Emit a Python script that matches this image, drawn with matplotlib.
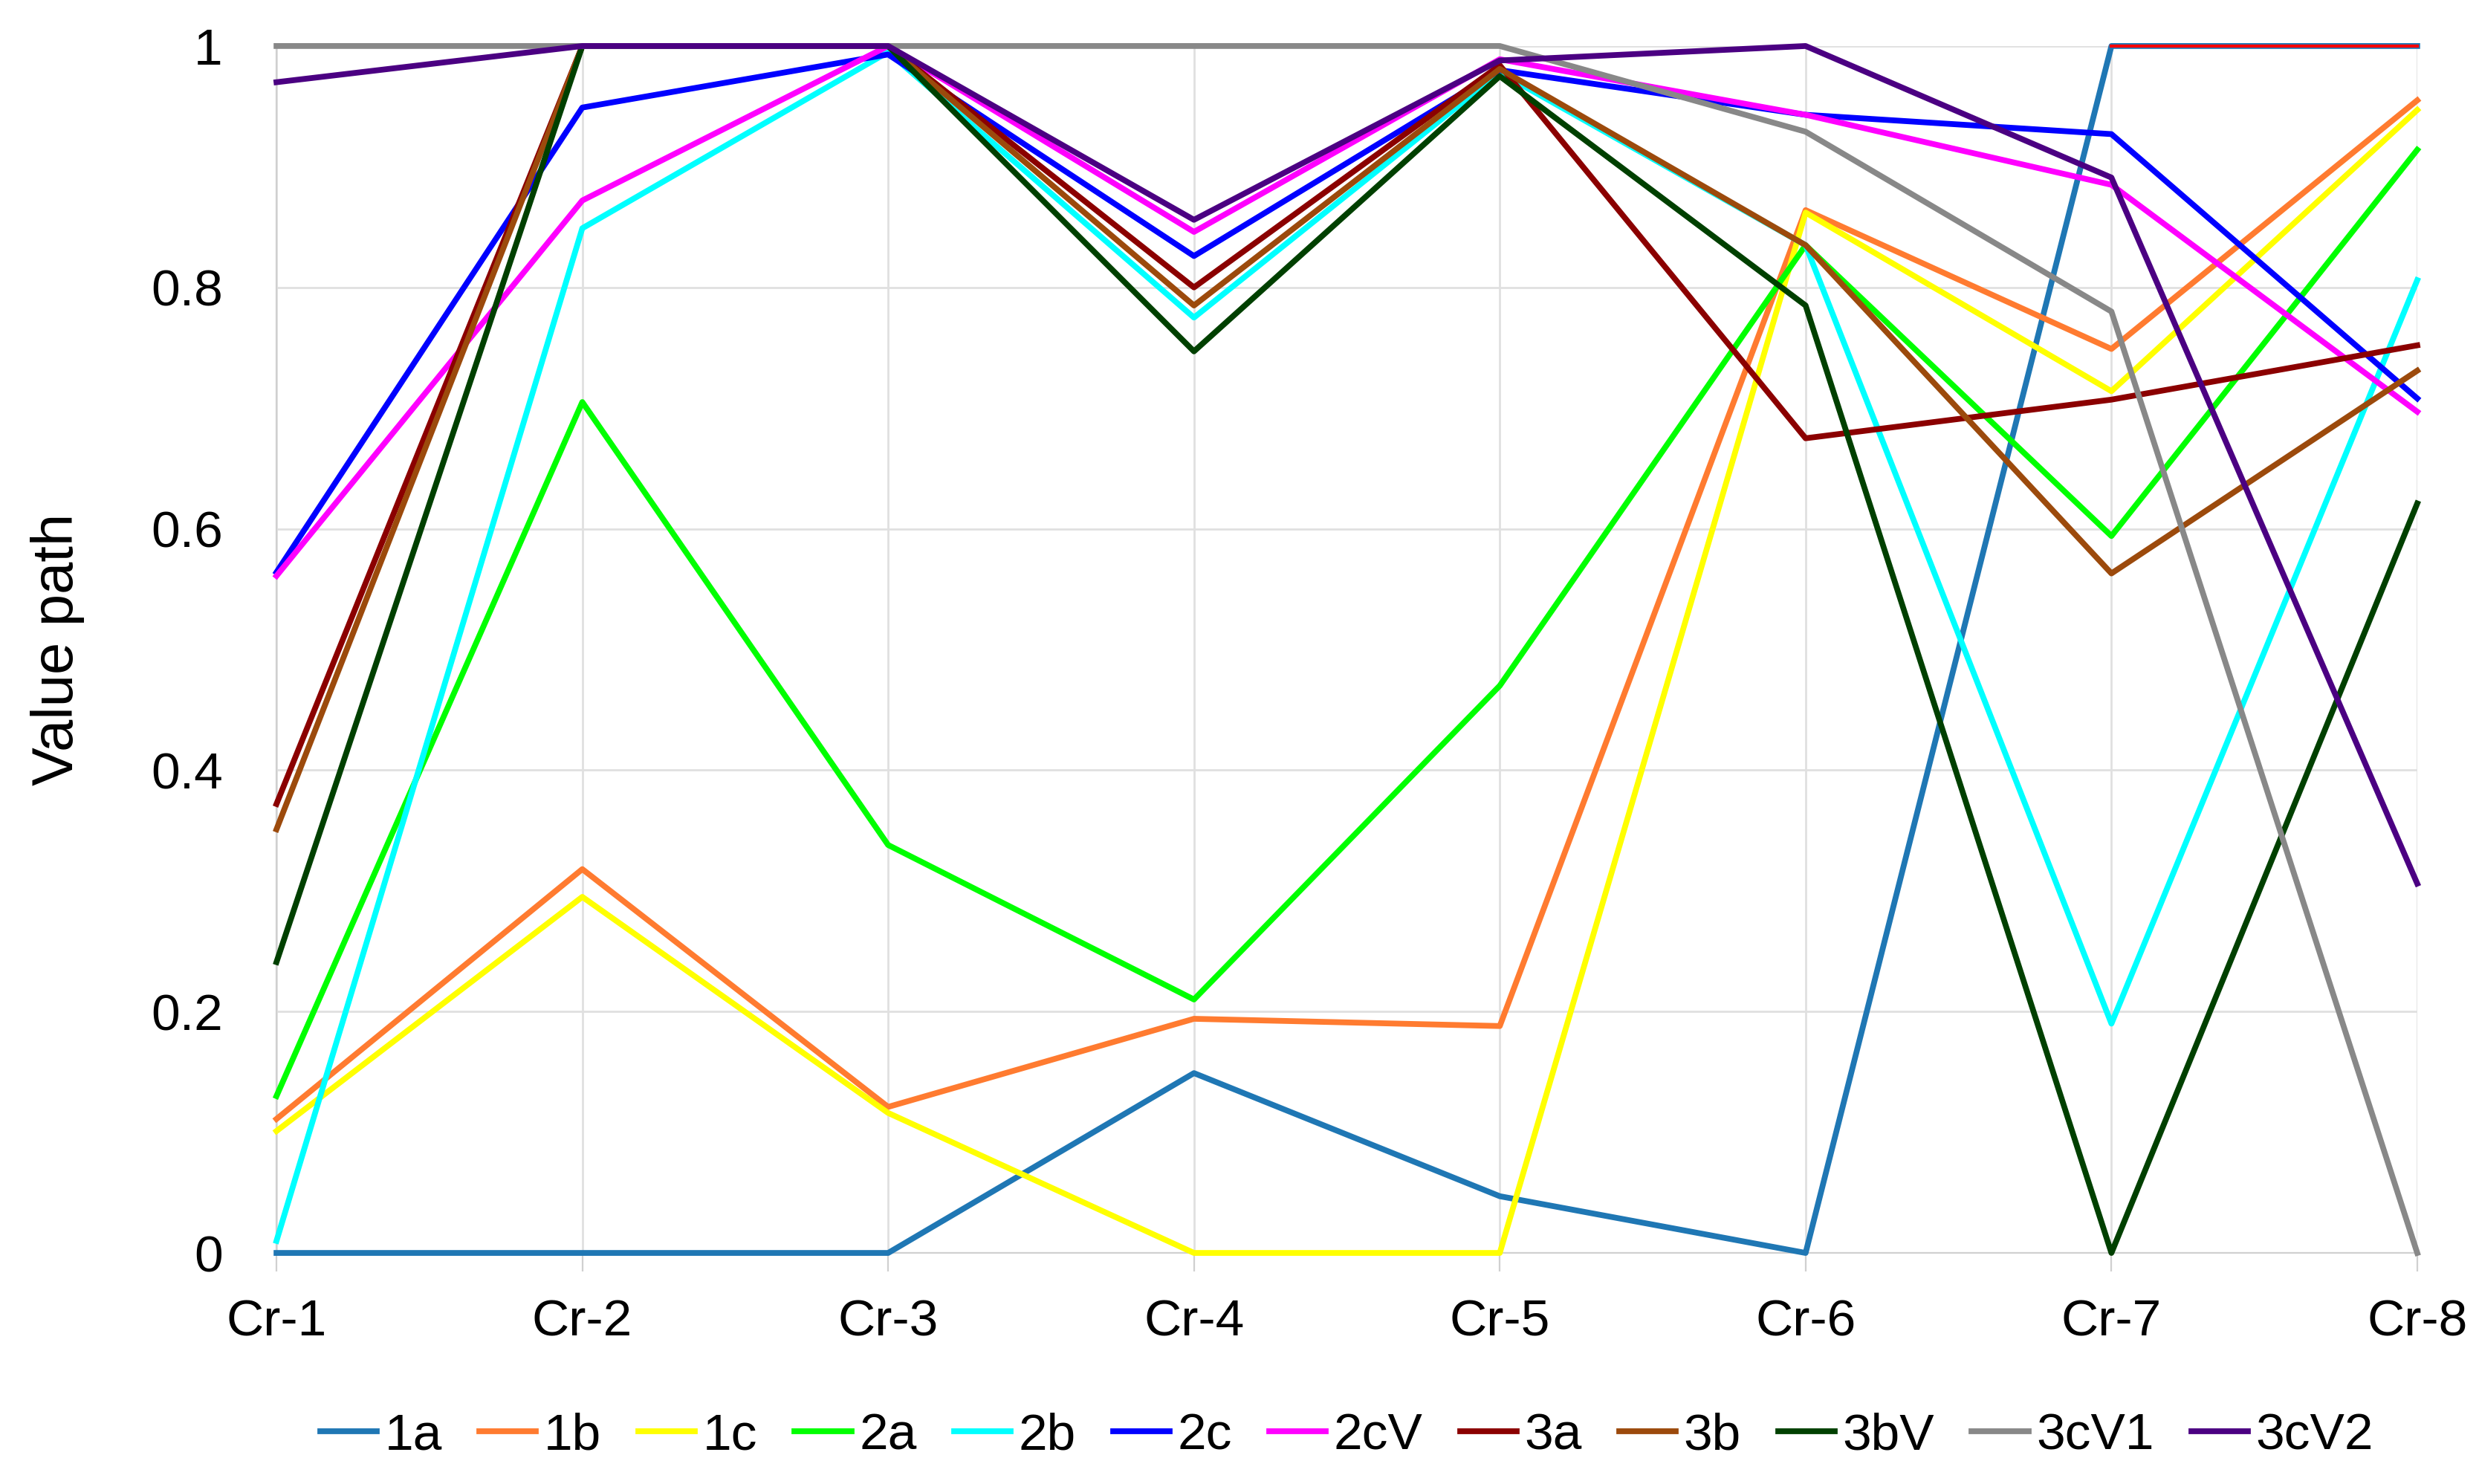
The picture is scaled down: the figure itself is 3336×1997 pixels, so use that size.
import numpy as np
import matplotlib
matplotlib.use('Agg')
import matplotlib.pyplot as plt

plt.rcParams['font.family'] = ['Liberation Sans', 'DejaVu Sans']

criteria = ['Cr-1', 'Cr-2', 'Cr-3', 'Cr-4', 'Cr-5', 'Cr-6', 'Cr-7', 'Cr-8']

v_1a = [0.0, 0.0, 0.0, 0.149, 0.047, 0.0, 1.0, 1.0]
v_1b = [0.111, 0.318, 0.121, 0.194, 0.188, 0.864, 0.749, 0.955]
v_1c = [0.101, 0.295, 0.116, 0.0, 0.0, 0.862, 0.714, 0.947]
v_2a = [0.130, 0.705, 0.338, 0.210, 0.470, 0.835, 0.594, 0.914]
v_2b = [0.010, 0.849, 0.995, 0.775, 0.978, 0.835, 0.190, 0.806]
v_2c = [0.564, 0.949, 0.993, 0.826, 0.980, 0.943, 0.927, 0.708]
v_2cV = [0.561, 0.872, 1.0, 0.846, 0.989, 0.943, 0.885, 0.697]
v_3a = [0.372, 1.0, 1.0, 0.800, 0.984, 0.675, 0.707, 0.752]
v_3b = [0.351, 1.0, 1.0, 0.785, 0.981, 0.835, 0.563, 0.731]
v_3bV = [0.241, 1.0, 1.0, 0.747, 0.975, 0.785, 0.0, 0.621]
v_3cV1 = [1.0, 1.0, 1.0, 1.0, 1.0, 0.929, 0.780, 0.0]
v_3cV2 = [0.970, 1.0, 1.0, 0.856, 0.988, 1.0, 0.891, 0.306]
# red segment at the top right, not in the legend
v_extra = [np.nan, np.nan, np.nan, np.nan, np.nan, np.nan, 1.0, 1.0]

names = ['1a', '1b', '1c', '2a', '2b', '2c', '2cV', '3a', '3b', '3bV', '3cV1', '3cV2']
series = [v_1a, v_1b, v_1c, v_2a, v_2b, v_2c, v_2cV, v_3a, v_3b, v_3bV, v_3cV1, v_3cV2]
colors = ['#1f77b4', '#ff7b30', '#ffff00', '#00ff00', '#00ffff', '#0000ff',
          '#ff00ff', '#8b0000', '#9c4a0c', '#004000', '#888888', '#4b0082']

fig = plt.figure(figsize=(16.685, 9.985), dpi=200)
ax = fig.add_axes([0.1115, 0.1557, 0.8633, 0.8133])

x = np.arange(len(criteria))
for name, vals, c in zip(names, series, colors):
    ax.plot(x, vals, color=c, lw=2.8, label=name, clip_on=False, zorder=3)
ax.plot(x, v_extra, color='#ff0000', lw=1.5, clip_on=False, zorder=4)

ax.set_xlim(0, 7)
ax.set_ylim(0, 1)
ax.set_xticks(x)
ax.set_xticklabels(criteria, fontsize=25)
ax.set_yticks([0, 0.2, 0.4, 0.6, 0.8, 1])
ax.set_yticklabels(['0', '0.2', '0.4', '0.6', '0.8', '1'], fontsize=25)
ax.tick_params(axis='x', length=9, color='#d0d0d0', width=0.8, pad=13)
ax.tick_params(axis='y', length=0, pad=26)
ax.grid(True, color='#e0e0e0', lw=1.0, zorder=0)
ax.set_axisbelow(True)
for s in ['top', 'right']:
    ax.spines[s].set_visible(False)
ax.spines['left'].set_color('#d0d0d0')
ax.spines['bottom'].set_color('#d0d0d0')
ax.set_ylabel('Value path', fontsize=28, labelpad=32)

ax.legend(loc='center', bbox_to_anchor=(0.5431, 0.0325), bbox_transform=fig.transFigure,
          ncol=12, frameon=False, fontsize=25, handlelength=1.1, handletextpad=0.15,
          columnspacing=0.72)

fig.savefig('out.png', dpi=200)
